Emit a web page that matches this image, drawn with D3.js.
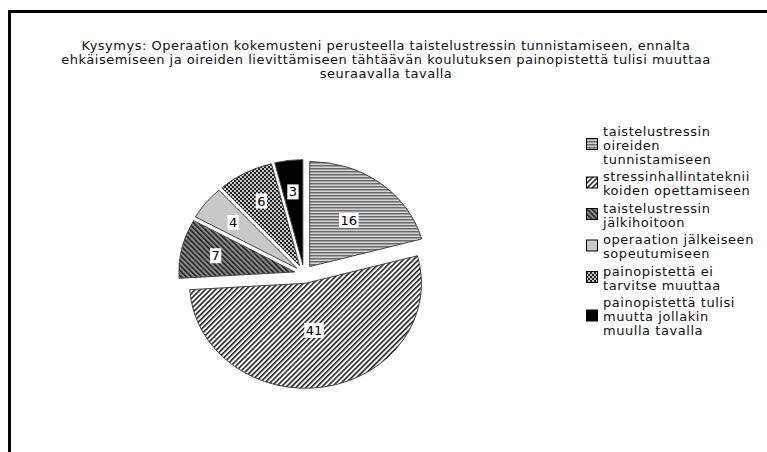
<!DOCTYPE html>
<html>
<head>
<meta charset="utf-8">
<script src="https://cdn.jsdelivr.net/npm/d3@7"></script>
<style>
  body { margin: 0; background: #fff; }
  text { font-family: "DejaVu Sans", sans-serif; }
</style>
</head>
<body>
<div id="chart"></div>
<script>
var width = 767
var height = 452

// data
var categories = [
  "taistelustressin oireiden tunnistamiseen",
  "stressinhallintatekniikoiden opettamiseen",
  "taistelustressin jälkihoitoon",
  "operaation jälkeiseen sopeutumiseen",
  "painopistettä ei tarvitse muuttaa",
  "painopistettä tulisi muutta jollakin muulla tavalla"
]
var values = [16, 41, 7, 4, 6, 3]
var legendLines = [
  ["taistelustressin", "oireiden", "tunnistamiseen"],
  ["stressinhallintateknii", "koiden opettamiseen"],
  ["taistelustressin", "jälkihoitoon"],
  ["operaation jälkeiseen", "sopeutumiseen"],
  ["painopistettä ei", "tarvitse muuttaa"],
  ["painopistettä tulisi", "muutta jollakin", "muulla tavalla"]
]
var titleLines = [
  "Kysymys: Operaation kokemusteni perusteella taistelustressin tunnistamiseen, ennalta",
  "ehkäisemiseen ja oireiden lievittämiseen tähtäävän koulutuksen painopistettä tulisi muuttaa",
  "seuraavalla tavalla"
]
var fills = ["url(#p16)", "url(#p41)", "url(#p7)", "#c8c8c8", "url(#p6)", "#000"]

var svg = d3.select("#chart")
  .append("svg")
    .attr("width", width)
    .attr("height", height)

// patterns
var defs = svg.append("defs")
var p = defs.append("pattern").attr("id", "p16")
  .attr("patternUnits", "userSpaceOnUse").attr("width", 4).attr("height", 3)
p.append("rect").attr("width", 4).attr("height", 3).attr("fill", "#d4d4d4")
p.append("rect").attr("width", 4).attr("height", 1.5).attr("fill", "#6a6a6a")

p = defs.append("pattern").attr("id", "p41")
  .attr("patternUnits", "userSpaceOnUse").attr("width", 3.6).attr("height", 3.6)
  .attr("patternTransform", "rotate(45)")
p.append("rect").attr("width", 3.6).attr("height", 3.6).attr("fill", "#fff")
p.append("rect").attr("width", 1.6).attr("height", 3.6).attr("fill", "#222")

p = defs.append("pattern").attr("id", "p7")
  .attr("patternUnits", "userSpaceOnUse").attr("width", 3.6).attr("height", 3.6)
  .attr("patternTransform", "rotate(-45)")
p.append("rect").attr("width", 3.6).attr("height", 3.6).attr("fill", "#8a8a8a")
p.append("rect").attr("width", 1.6).attr("height", 3.6).attr("fill", "#222")

p = defs.append("pattern").attr("id", "p6")
  .attr("patternUnits", "userSpaceOnUse").attr("width", 4).attr("height", 4)
p.append("rect").attr("width", 4).attr("height", 4).attr("fill", "#222")
p.append("circle").attr("cx", 1).attr("cy", 1).attr("r", 1).attr("fill", "#fff")
p.append("circle").attr("cx", 3).attr("cy", 3).attr("r", 1).attr("fill", "#fff")

// frame
svg.append("rect")
  .attr("x", 9.5).attr("y", 11.5)
  .attr("width", 900).attr("height", 600)
  .attr("fill", "none").attr("stroke", "#000").attr("stroke-width", 3)

// title
svg.append("text")
  .attr("x", 386).attr("y", 50)
  .attr("text-anchor", "middle")
  .style("font-size", "13px")
  .style("letter-spacing", "0.5px")
  .attr("fill", "#111")
  .selectAll("tspan")
  .data(titleLines)
  .enter().append("tspan")
    .attr("x", 386)
    .attr("dy", function(d, i) { return i == 0 ? 0 : 14 })
    .text(function(d) { return d })

// pie
var cx = 304, cy = 274, rx = 116, ry = 105, explode = 9.4

var pie = d3.pie().sort(null).value(function(d) { return d })
var arcs = pie(values)

function slicePath(d) {
  var mid = (d.startAngle + d.endAngle) / 2
  var ox = cx + explode * Math.sin(mid)
  var oy = cy - explode * Math.cos(mid)
  var x0 = ox + rx * Math.sin(d.startAngle), y0 = oy - ry * Math.cos(d.startAngle)
  var x1 = ox + rx * Math.sin(d.endAngle), y1 = oy - ry * Math.cos(d.endAngle)
  var large = (d.endAngle - d.startAngle) > Math.PI ? 1 : 0
  return "M" + ox + "," + oy + "L" + x0 + "," + y0 +
    "A" + rx + "," + ry + " 0 " + large + " 1 " + x1 + "," + y1 + "Z"
}

var slices = svg.append("g")
slices.selectAll("path")
  .data(arcs)
  .enter().append("path")
    .attr("d", slicePath)
    .attr("fill", function(d, i) { return fills[i] })
    .attr("stroke", "#444")
    .attr("stroke-width", 1)

// labels
var labels = svg.append("g")
  .selectAll("g")
  .data(arcs)
  .enter().append("g")
  .attr("transform", function(d) {
    var mid = (d.startAngle + d.endAngle) / 2
    var a = d.endAngle - d.startAngle
    var f = a > 1 ? 0.62 - 0.05 * a : 0.7
    var x = cx + explode * Math.sin(mid) + f * rx * Math.sin(mid)
    var y = cy - explode * Math.cos(mid) - f * ry * Math.cos(mid)
    return "translate(" + x + "," + y + ")"
  })

labels.append("text")
  .attr("text-anchor", "middle")
  .attr("dy", "0.36em")
  .style("font-size", "13px")
  .text(function(d) { return d.data })
  .each(function() {
    var b = this.getBBox()
    d3.select(this.parentNode).insert("rect", "text")
      .attr("x", b.x - 1.5).attr("y", b.y)
      .attr("width", b.width + 3).attr("height", b.height)
      .attr("fill", "#fff")
  })

// legend
var legend = svg.append("g")
var ly = 131
legendLines.forEach(function(lines, i) {
  var g = legend.append("g")
  var n = lines.length
  g.append("rect")
    .attr("x", 586.5).attr("y", ly + (n - 1) * 14 / 2 - 6.5)
    .attr("width", 11).attr("height", 11)
    .attr("fill", fills[i])
    .attr("stroke", "#000")
  g.selectAll("text")
    .data(lines)
    .enter().append("text")
      .attr("x", 603)
      .attr("y", function(d, j) { return ly + j * 14 + 4.5 })
      .style("font-size", "13px")
      .style("letter-spacing", "0.55px")
      .attr("fill", "#111")
      .text(function(d) { return d })
  ly += n * 14 + 3.5
})
</script>
</body>
</html>
